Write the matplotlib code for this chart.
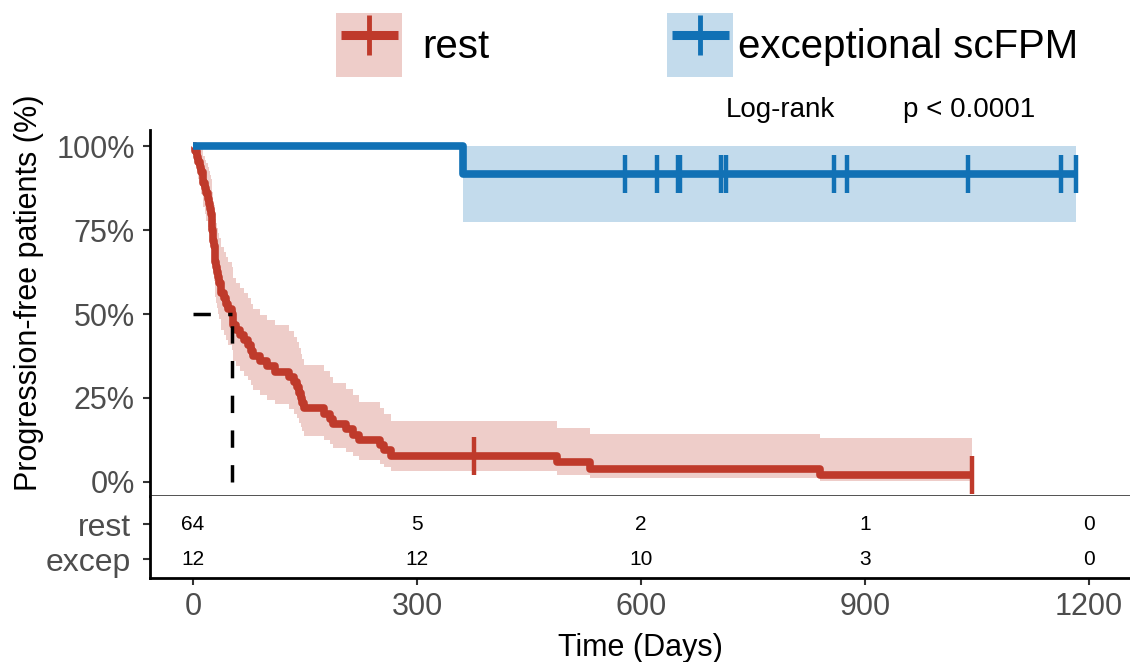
import numpy as np
import matplotlib
matplotlib.use("Agg")
import matplotlib.pyplot as plt
from matplotlib.patches import Patch
from matplotlib.lines import Line2D
from matplotlib.legend_handler import HandlerLine2D

plt.rcParams["font.family"] = ["Liberation Sans", "DejaVu Sans"]

# Progression / censoring times in days
rest_events = [3, 5, 7, 9, 11, 13, 14, 16, 18, 20, 22, 23, 24, 25, 25, 26, 27, 27,
               28, 29, 30, 30, 31, 32, 34, 35, 37, 38, 41, 44, 47, 52, 53, 54, 58, 63,
               68, 74, 78, 81, 90, 99, 110, 128, 135, 139, 142, 144, 146, 148, 175,
               183, 188, 205, 214, 222, 250, 256, 265, 487, 532, 840]
rest_censored = [376, 1043]
excep_events = [362]
excep_censored = [579, 622, 649, 652, 707, 714, 858, 876, 1038, 1163, 1183]

group_labels = ["rest", "exceptional scFPM"]
table_labels = ["rest", "excep"]
time_ticks = [0, 300, 600, 900, 1200]
pct_ticks = [0, 25, 50, 75, 100]

red = "#BF3A2B"
blue = "#1171B5"


def kaplan_meier(events, censored):
    ev = np.array(events, dtype=float)
    ce = np.array(censored, dtype=float)
    allt = np.concatenate([ev, ce])
    t_ev = np.unique(ev)
    s, gw = 1.0, 0.0
    xs, ss, lo, hi = [0.0], [1.0], [1.0], [1.0]
    for t in t_ev:
        n = np.sum(allt >= t)
        d = np.sum(ev == t)
        s *= 1 - d / n
        gw += d / (n * (n - d)) if n > d else np.inf
        se = np.sqrt(gw)
        xs.append(t)
        ss.append(s)
        lo.append(s * np.exp(-1.96 * se))
        hi.append(min(1.0, s * np.exp(1.96 * se)))
    xs.append(allt.max())
    ss.append(ss[-1]); lo.append(lo[-1]); hi.append(hi[-1])
    return np.array(xs), np.array(ss) * 100, np.array(lo) * 100, np.array(hi) * 100


def surv_at(xs, ss, t):
    return ss[np.searchsorted(xs, t, side="right") - 1]


fig = plt.figure(figsize=(11.3, 6.62), dpi=100)
ax = fig.add_axes([150 / 1130, 1 - 496 / 662, 980 / 1130, 366 / 662])
ax_tab = fig.add_axes([150 / 1130, 1 - 578 / 662, 980 / 1130, 82 / 662], sharex=ax)

groups = [(rest_events, rest_censored, red), (excep_events, excep_censored, blue)]
curves = []
for events, censored, col in groups:
    xs, ss, lo, hi = kaplan_meier(events, censored)
    curves.append((xs, ss))
    ax.fill_between(xs, lo, hi, step="post", color=col, alpha=0.25, lw=0)
for (events, censored, col), (xs, ss) in zip(groups, curves):
    ax.plot(xs, ss, drawstyle="steps-post", color=col, lw=5.5,
            solid_joinstyle="round", solid_capstyle="butt")
    cy = [surv_at(xs, ss, t) for t in censored]
    ax.plot(censored, cy, ls="none", marker="|", ms=28, mew=3.2, color=col)

# median line for the rest group
xs, ss = curves[0]
med = xs[np.argmax(ss <= 50)]
ax.plot([0, med], [50, 50], color="black", lw=2.5, ls=(0, (5, 5)))
ax.plot([med, med], [0, 50], color="black", lw=2.5, ls=(0, (5, 5)))

ax.set_xlim(-57.6, 1255)
ax.set_ylim(-4.2, 104.8)
ax.spines[["top", "right"]].set_visible(False)
ax.spines["left"].set_linewidth(2)
ax.spines["bottom"].set_color("#444444")
ax.spines["bottom"].set_linewidth(1.3)
ax.tick_params(axis="x", bottom=False, labelbottom=False)
ax.set_yticks(pct_ticks, [f"{p}%" for p in pct_ticks])
ax.tick_params(axis="y", length=5, width=1.5, color="#333333",
               labelsize=22, labelcolor="#4D4D4D", pad=6)
ax.set_ylabel("Progression-free patients (%)", fontsize=22)
ax.yaxis.set_label_coords(-0.108, 0.555)

ax.text(0.588, 1.055, "Log-rank", transform=ax.transAxes, fontsize=20,
        ha="left", va="center")
ax.text(0.768, 1.055, "p < 0.0001", transform=ax.transAxes, fontsize=20,
        ha="left", va="center")

# number at risk table
for row, (events, censored, col) in zip([1, 0], groups):
    allt = np.array(events + censored)
    for t in time_ticks:
        ax_tab.text(t, row, str(np.sum(allt >= t)), ha="center", va="center",
                    fontsize=15)

ax_tab.set_ylim(-0.54, 1.8)
ax_tab.spines[["top", "right"]].set_visible(False)
ax_tab.spines["left"].set_linewidth(2)
ax_tab.spines["bottom"].set_linewidth(2)
ax_tab.set_yticks([1, 0], table_labels)
ax_tab.set_xticks(time_ticks)
ax_tab.tick_params(length=5, width=1.5, color="#333333", labelsize=22,
                   labelcolor="#4D4D4D", pad=5)
ax_tab.tick_params(axis="y", pad=9, labelsize=23)
ax_tab.set_xlabel("Time (Days)", fontsize=22, labelpad=8)

# legends at the top
for lab, col, xpos, gap in [(group_labels[0], red, 336, 0.5),
                            (group_labels[1], blue, 667, 0.12)]:
    line_h = Line2D([], [], color=col, lw=6.5, solid_capstyle="butt")
    mark_h = Line2D([], [], ls="none", marker="|", ms=29, mew=3.5, color=col)
    patch_h = Patch(facecolor=matplotlib.colors.to_rgba(col, 0.25), edgecolor="none")
    fig.legend([(patch_h, line_h, mark_h)], [lab], loc="center left",
               bbox_to_anchor=(xpos / 1130, 1 - 45 / 662),
               handler_map={line_h: HandlerLine2D(numpoints=2, marker_pad=0.12)},
               frameon=False, fontsize=29, handlelength=1.65, handleheight=2.1,
               handletextpad=gap, borderpad=0, borderaxespad=0)

fig.savefig("out.png", dpi=100)
